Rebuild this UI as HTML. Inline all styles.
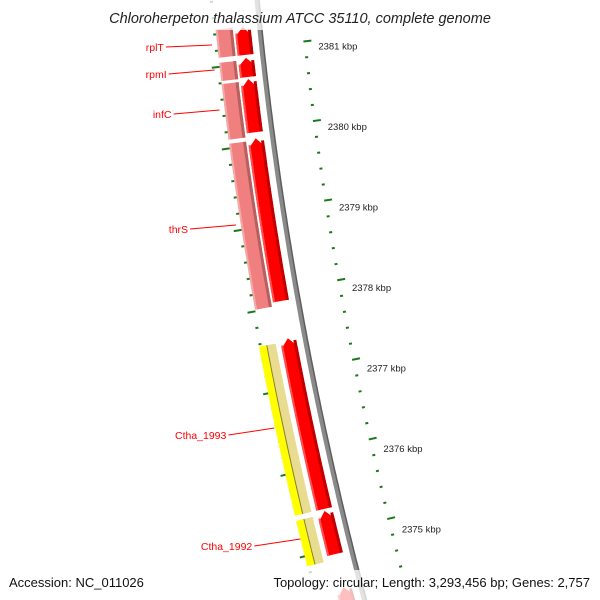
<!DOCTYPE html>
<html><head><meta charset="utf-8"><style>
html,body{margin:0;padding:0;background:#fff;}
svg{display:block;font-family:"Liberation Sans",sans-serif;}
</style></head><body>
<svg id="map" width="600" height="600" viewBox="0 0 600 600">
<g id="ticks"></g>
<g id="feats"></g>
<g id="labels"></g>
<rect x="80" y="0" width="440" height="30" fill="#fff" opacity="0.75"/>
<rect x="0" y="570" width="600" height="30" fill="#fff" opacity="0.75"/>
<text x="300" y="23" text-anchor="middle" font-size="14.5" font-style="italic" fill="#222">Chloroherpeton thalassium ATCC 35110, complete genome</text>
<text x="9" y="587" font-size="13" fill="#111">Accession: NC_011026</text>
<text x="590" y="587" font-size="13" fill="#111" text-anchor="end">Topology: circular; Length: 3,293,456 bp; Genes: 2,757</text>
</svg>
<script>
const tickKbp=[2381,2380,2379,2378,2377,2376,2375,2374];
const tickLabels=["2381 kbp","2380 kbp","2379 kbp","2378 kbp","2377 kbp","2376 kbp","2375 kbp",""];
const fwdStarts=[25,56,77,136,335,507,583];
const fwdEnds=[53,75,130,298,505,550,620];
const cogStarts=[25,58,79,138];
const cogEnds=[53,76,134,302];
const ylwStarts=[338,510];
const ylwEnds=[505,555];
const geneNames=["rplT","rpmI","infC","thrS","Ctha_1993","Ctha_1992"];
const geneY=[45,70,110,225,428,539];
const labelY=[47,74,114,229,435,546];

const NS="http://www.w3.org/2000/svg";
function B(y){return 257+0.095*y+1.4e-4*y*y;}
function dB(y){return 0.095+2.8e-4*y;}
function kbpToY(k){return 46+(2381-k)*80.5;}
function P(y,r){const d=dB(y),n=Math.sqrt(1+d*d);return [B(y)+r/n, y-r*d/n];}
function mk(tag,attrs,parent){const e=document.createElementNS(NS,tag);for(const k in attrs)e.setAttribute(k,attrs[k]);parent.appendChild(e);return e;}
function band(y1,y2,r1,r2,arrow){
  const pts=[];const N=30;
  const ah=arrow?Math.min(9,(y2-y1)*0.4):0;
  if(arrow){pts.push(P(y1,(r1+r2)/2));}
  for(let i=0;i<=N;i++){const y=y1+ah+(y2-y1-ah)*i/N;pts.push(P(y,r2));}
  for(let i=N;i>=0;i--){const y=y1+ah+(y2-y1-ah)*i/N;pts.push(P(y,r1));}
  return pts.map(p=>p[0].toFixed(1)+","+p[1].toFixed(1)).join(" ");
}
const feats=document.getElementById('feats');
const ticksG=document.getElementById('ticks');
const labelsG=document.getElementById('labels');

// backbone
let bb=[];for(let y=-5;y<=605;y+=5){bb.push(P(y,0).map(v=>v.toFixed(1)).join(","));}
let e=mk('polyline',{points:bb.join(" "),fill:"none",stroke:"#8a8a8a","stroke-width":5},feats);


let bb2=[];for(let y=-5;y<=605;y+=5){bb2.push(P(y,2).map(v=>v.toFixed(1)).join(","));}
e=mk('polyline',{points:bb2.join(" "),fill:"none",stroke:"#5e5e5e","stroke-width":1.5},feats);



function drawBand(y1,y2,r1,r2,arrow,main,dark,light,name){
  let g=mk('polygon',{points:band(y1,y2,r1,r2,arrow),fill:main},feats);
  
  
  let d=mk('polygon',{points:band(y1+(arrow?3:0),y2,r2-3,r2,false),fill:dark},feats);
  
  
  let l=mk('polygon',{points:band(y1+(arrow?6:0),y2,r1,r1+2,false),fill:light},feats);
  
  
}
for(let i=0;i<fwdStarts.length;i++)drawBand(fwdStarts[i],fwdEnds[i],-25,-9,true,"#ff0000","#c00000","#ff5050","forward-gene-"+(i+1));
for(let i=0;i<cogStarts.length;i++)drawBand(cogStarts[i],cogEnds[i],-44,-27,false,"#f08080","#b86060","#f6a8a8","cog-feature-"+(i+1));
for(let i=0;i<ylwStarts.length;i++){
  let a=mk('polygon',{points:band(ylwStarts[i],ylwEnds[i],-47,-39,false),fill:"#ffff00"},feats);
  
  
  let b=mk('polygon',{points:band(ylwStarts[i],ylwEnds[i],-39,-30,false),fill:"#e8dc90"},feats);
  
  
  let c=mk('polygon',{points:band(ylwStarts[i],ylwEnds[i],-39.5,-38.5,false),fill:"#8a8030"},feats);
  
  
}
// right ticks
for(let k=0;k<tickKbp.length;k++){
  for(let m=0;m<5;m++){
    const y=kbpToY(tickKbp[k])+m*16.1;
    if(y<-5||y>605)continue;
    const major=m===0;
    const a=P(y,42),b=P(y,major?50:45);
    let t=mk('line',{x1:a[0],y1:a[1],x2:b[0],y2:b[1],stroke:"#1a7a1a","stroke-width":2},ticksG);
    
    
  }
  const ly=kbpToY(tickKbp[k]);
  const lp=P(ly,57);
  let tx=mk('text',{x:lp[0],y:ly+3.5,"font-size":"9.5",fill:"#222"},ticksG);
  tx.textContent=tickLabels[k];
  
  
}
for(let m=-4;m<42;m++){
  const y=kbpToY(2381)+16+m*16.1;
  if(y<-5||y>605)continue;
  const major=(m%5===0);
  const a=P(y,-44),b=P(y,major?-52:-47);
  let t=mk('line',{x1:a[0],y1:a[1],x2:b[0],y2:b[1],stroke:"#1a7a1a","stroke-width":2},ticksG);
  
  
}
// labels
for(let i=0;i<geneNames.length;i++){
  const p=P(geneY[i],-48);
  let tx=mk('text',{x:p[0]-50,y:labelY[i]+4,"font-size":"10.5",fill:"#ff0000","text-anchor":"end"},labelsG);
  tx.textContent=geneNames[i];
  
  
  let ln=mk('line',{x1:p[0]-48,y1:labelY[i],x2:p[0]-2,y2:geneY[i],stroke:"#ff0000","stroke-width":1},labelsG);
  
  
}
</script>
</body></html>
